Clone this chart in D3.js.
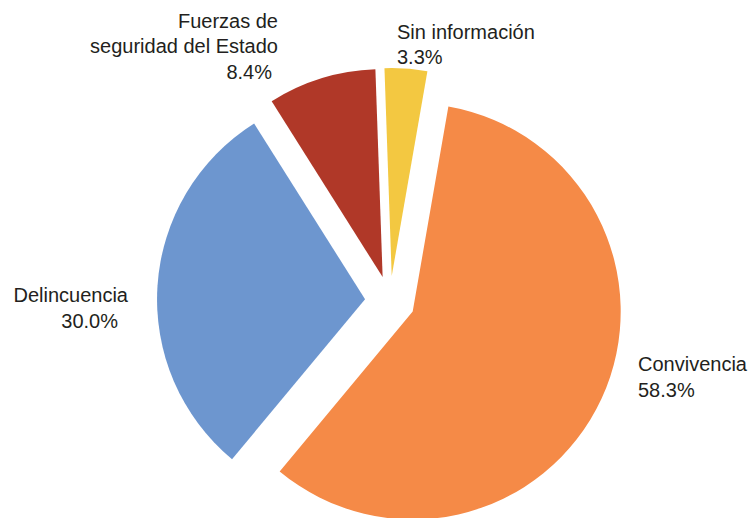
<!DOCTYPE html>
<html>
<head>
<meta charset="utf-8">
<script src="https://cdn.jsdelivr.net/npm/d3@7"></script>
<style>
  html, body { margin: 0; padding: 0; background: #fff; }
  svg { display: block; }
  text { font-family: "Liberation Sans", Arial, sans-serif; font-size: 20px; fill: #231f20; }
</style>
</head>
<body>
<svg id="chart" width="753" height="518"></svg>
<script>
// ---- data ----
const categories = ["Sin información", "Convivencia", "Delincuencia", "Fuerzas de seguridad del Estado"];
const values = [3.3, 58.3, 30.0, 8.4];
const valueLabels = ["3.3%", "58.3%", "30.0%", "8.4%"];
const labelLines = [["Sin información"], ["Convivencia"], ["Delincuencia"], ["Fuerzas de", "seguridad del Estado"]];
const colors = ["#f3c841", "#f58a47", "#6d96cf", "#b03828"];

// ---- layout ----
const W = 753, H = 518;
const cx = 390, cy = 301, R = 208, explode = 25;
const startDeg = -2;
// label placement: [x, first baseline, anchor, percent dx]
const labelLayout = [
  { x: 397, y: 38.5, anchor: "start", pdx: 0 },
  { x: 638, y: 371, anchor: "start", pdx: 0 },
  { x: 128, y: 302, anchor: "end", pdx: -10 },
  { x: 278, y: 27.5, anchor: "end", pdx: -6 }
];
const lineH = 25.7;

const svg = d3.select("#chart");
const pie = d3.pie().sort(null).value(d => d)
  .startAngle(startDeg * Math.PI / 180)
  .endAngle((startDeg + 360) * Math.PI / 180);
const arc = d3.arc().innerRadius(0).outerRadius(R);
const arcs = pie(values);

const g = svg.append("g").attr("transform", `translate(${cx},${cy})`);
g.selectAll("path").data(arcs).enter().append("path")
  .attr("d", arc)
  .attr("fill", (d, i) => colors[i])
  .attr("transform", d => {
    const a = (d.startAngle + d.endAngle) / 2;
    return `translate(${explode * Math.sin(a)},${-explode * Math.cos(a)})`;
  });

labelLayout.forEach((L, i) => {
  const t = svg.append("text").attr("text-anchor", L.anchor);
  const lines = labelLines[i];
  lines.forEach((ln, j) => {
    t.append("tspan").attr("x", L.x).attr("y", L.y + j * lineH).text(ln);
  });
  t.append("tspan").attr("x", L.x + L.pdx).attr("y", L.y + lines.length * lineH).text(valueLabels[i]);
});
</script>
</body>
</html>
